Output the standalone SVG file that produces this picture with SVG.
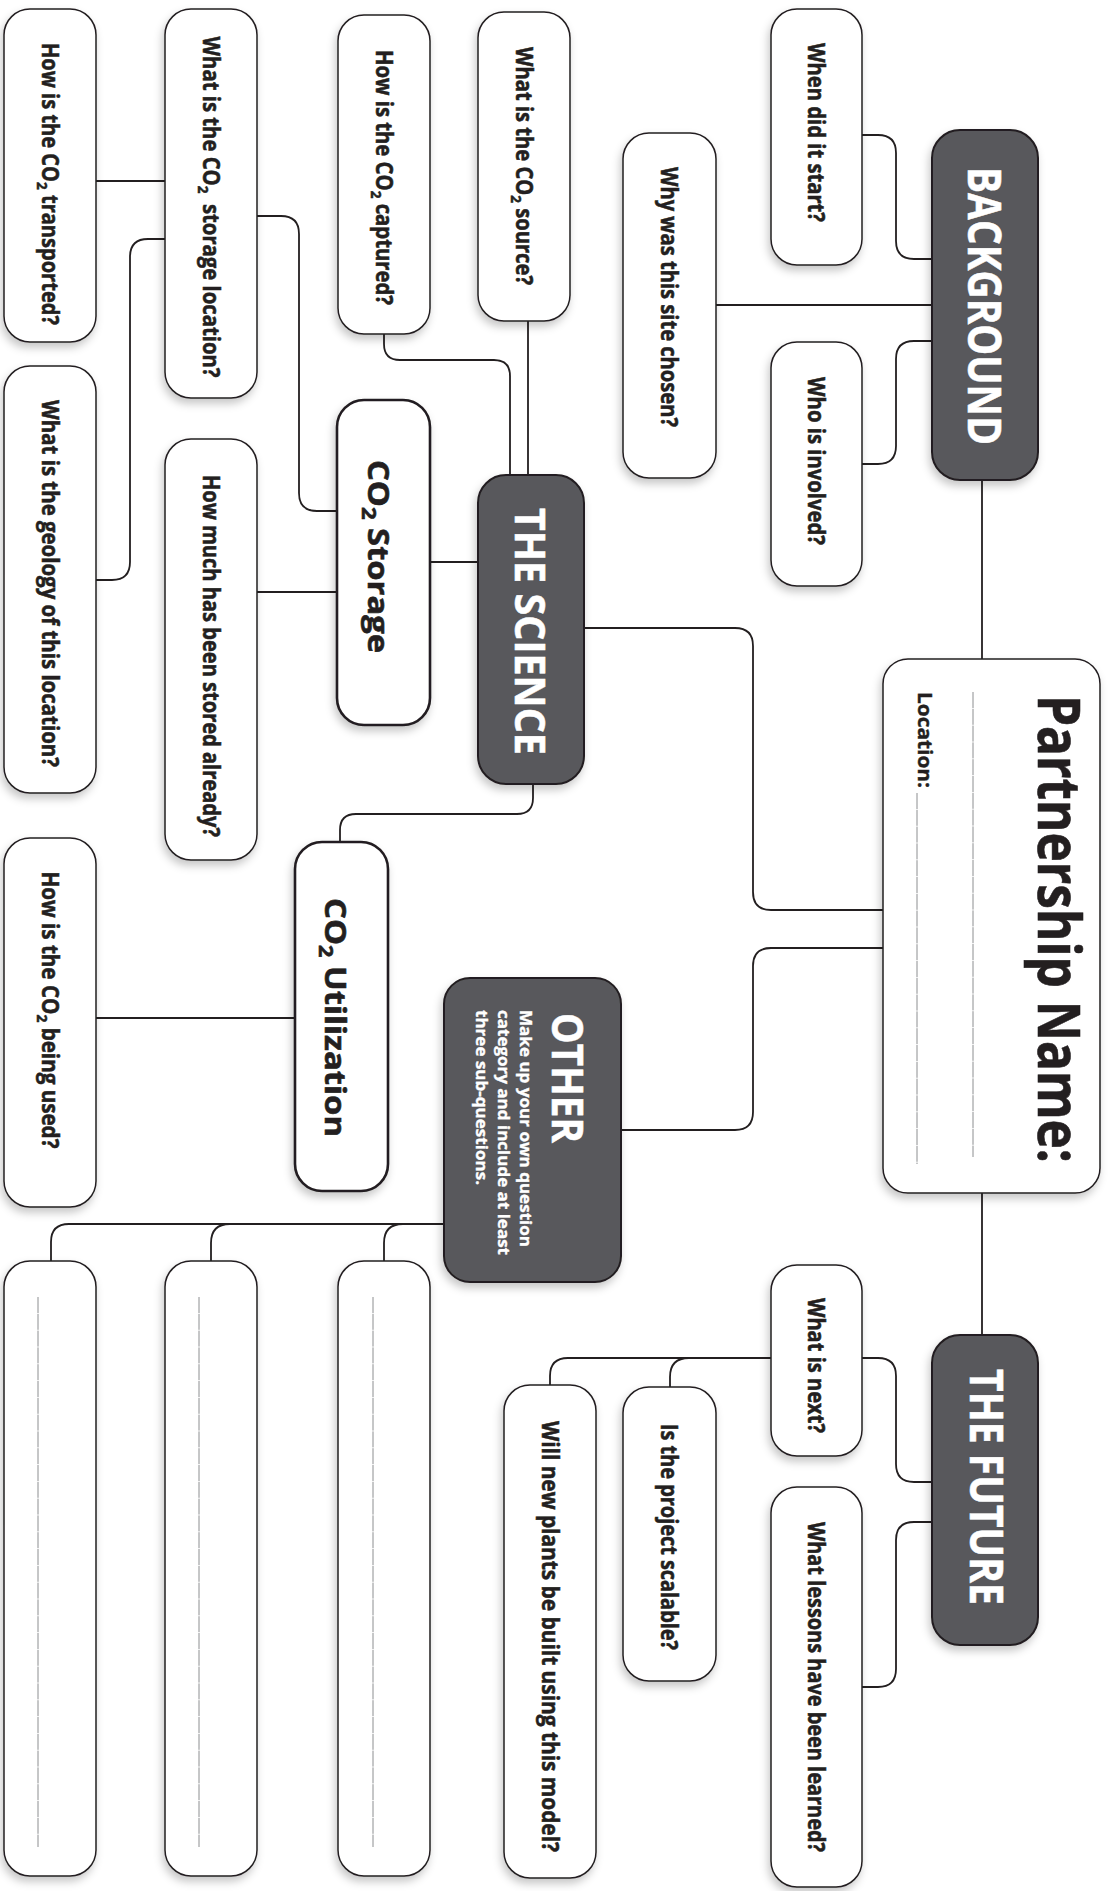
<svg xmlns="http://www.w3.org/2000/svg" width="1111" height="1891" viewBox="0 0 1111 1891">
<style>
.box{fill:#fff;stroke:#231f20;stroke-width:1.5;filter:url(#sh)}
.thick{fill:#fff;stroke:#231f20;stroke-width:2.6;filter:url(#sh)}
.dark{fill:#58595b;stroke:#231f20;stroke-width:2;filter:url(#sh)}
.q{font-family:"Open Sans","Liberation Sans",sans-serif;font-weight:700;font-size:22.5px;fill:#231f20;stroke:#231f20;stroke-width:0.55}
.t{font-family:"Open Sans","Liberation Sans",sans-serif;font-weight:700;fill:#fff;stroke:#fff;stroke-width:0.5}
.mid{font-family:"Open Sans","Liberation Sans",sans-serif;font-weight:700;fill:#231f20;stroke:#231f20;stroke-width:0.6}
.wl{stroke:#808285;stroke-width:0.9;stroke-dasharray:16 0.8;fill:none}
#connectors path{fill:none;stroke:#231f20;stroke-width:1.8}
</style>
<defs>
<filter id="sh" x="-30%" y="-10%" width="160%" height="125%">
<feDropShadow dx="-2" dy="5" stdDeviation="4" flood-color="#000" flood-opacity="0.22"/>
</filter>
</defs>
<rect width="1111" height="1891" fill="#fff"/>
<g id="connectors">
<path d="M96,181 H165"/>
<path d="M257,216 H281 Q299,216 299,234 V493 Q299,511 317,511 H337"/>
<path d="M165,239 H148 Q130,239 130,257 V562 Q130,580 112,580 H96"/>
<path d="M257,592 H337"/>
<path d="M430,562 H478"/>
<path d="M384,334 V344 Q384,360 400,360 H494 Q510,360 510,376 V475"/>
<path d="M528,321 V475"/>
<path d="M533,784 V798 Q533,814 517,814 H356 Q340,814 340,830 V842"/>
<path d="M96,1018 H295"/>
<path d="M584,628 H735 Q753,628 753,646 V892 Q753,910 771,910 H883"/>
<path d="M883,948 H771 Q753,948 753,966 V1112 Q753,1130 735,1130 H621"/>
<path d="M444,1224 H69 Q51,1224 51,1242 V1261"/>
<path d="M230,1224 Q211,1224 211,1243 V1261"/>
<path d="M403,1224 Q384,1224 384,1243 V1261"/>
<path d="M982,480 V659"/>
<path d="M982,1193 V1335"/>
<path d="M862,135 H878 Q896,135 896,153 V241 Q896,259 914,259 H932"/>
<path d="M716,305 H932"/>
<path d="M932,341 H914 Q896,341 896,359 V446 Q896,464 878,464 H862"/>
<path d="M862,1358 H878 Q896,1358 896,1376 V1464 Q896,1482 914,1482 H932"/>
<path d="M932,1522 H914 Q896,1522 896,1540 V1669 Q896,1687 878,1687 H862"/>
<path d="M771,1358 H568 Q550,1358 550,1376 V1385"/>
<path d="M689,1358 Q670,1358 670,1377 V1387"/>
</g>

<g id="q-transported">
<rect class="box" x="4" y="9" width="92" height="333" rx="26"/>
<text class="q" transform="translate(41.5,184) rotate(90)" text-anchor="middle" textLength="282" lengthAdjust="spacingAndGlyphs">How is the CO<tspan dy="5" font-size="15">2</tspan><tspan dy="-5"> transported?</tspan></text>
</g>
<g id="q-geology">
<rect class="box" x="4" y="366" width="92" height="427" rx="26"/>
<text class="q" transform="translate(41.5,583.5) rotate(90)" text-anchor="middle" textLength="367" lengthAdjust="spacingAndGlyphs">What is the geology of this location?</text>
</g>
<g id="q-used">
<rect class="box" x="4" y="838" width="92" height="369" rx="26"/>
<text class="q" transform="translate(41.5,1010) rotate(90)" text-anchor="middle" textLength="277" lengthAdjust="spacingAndGlyphs">How is the CO<tspan dy="5" font-size="15">2</tspan><tspan dy="-5"> being used?</tspan></text>
</g>
<g id="blank-a">
<rect class="box" x="4" y="1261" width="92" height="615" rx="26"/>
<line class="wl" x1="38" y1="1297" x2="38" y2="1847"/>
</g>

<g id="q-storage-location">
<rect class="box" x="165" y="9" width="92" height="389" rx="26"/>
<text class="q" transform="translate(202.5,207) rotate(90)" text-anchor="middle" textLength="341" lengthAdjust="spacingAndGlyphs" xml:space="preserve">What is the CO<tspan dy="5" font-size="15">2</tspan><tspan dy="-5">  storage location?</tspan></text>
</g>
<g id="q-howmuch">
<rect class="box" x="165" y="439" width="92" height="421" rx="26"/>
<text class="q" transform="translate(202.5,656) rotate(90)" text-anchor="middle" textLength="362" lengthAdjust="spacingAndGlyphs">How much has been stored already?</text>
</g>
<g id="blank-b">
<rect class="box" x="165" y="1261" width="92" height="615" rx="26"/>
<line class="wl" x1="199" y1="1297" x2="199" y2="1847"/>
</g>

<g id="q-captured">
<rect class="box" x="338" y="15" width="92" height="319" rx="26"/>
<text class="q" transform="translate(375.5,177.5) rotate(90)" text-anchor="middle" textLength="255" lengthAdjust="spacingAndGlyphs">How is the CO<tspan dy="5" font-size="15">2</tspan><tspan dy="-5"> captured?</tspan></text>
</g>
<g id="co2-storage">
<rect class="thick" x="337" y="400" width="93" height="325" rx="27"/>
<text class="mid" font-size="28" transform="translate(368,556.5) rotate(90)" text-anchor="middle" textLength="193" lengthAdjust="spacingAndGlyphs">CO<tspan dy="6" font-size="19">2</tspan><tspan dy="-6"> Storage</tspan></text>
</g>
<g id="blank-c">
<rect class="box" x="338" y="1261" width="92" height="615" rx="26"/>
<line class="wl" x1="373" y1="1297" x2="373" y2="1847"/>
</g>

<g id="co2-utilization">
<rect class="thick" x="295" y="842" width="93" height="349" rx="27"/>
<text class="mid" font-size="29" transform="translate(325,1017.5) rotate(90)" text-anchor="middle" textLength="239" lengthAdjust="spacingAndGlyphs">CO<tspan dy="6" font-size="19">2</tspan><tspan dy="-6"> Utilization</tspan></text>
</g>

<g id="q-source">
<rect class="box" x="478" y="12" width="92" height="309" rx="26"/>
<text class="q" transform="translate(515.5,166) rotate(90)" text-anchor="middle" textLength="238" lengthAdjust="spacingAndGlyphs">What is the CO<tspan dy="5" font-size="15">2</tspan><tspan dy="-5"> source?</tspan></text>
</g>
<g id="the-science">
<rect class="dark" x="478" y="475" width="106" height="309" rx="28"/>
<text class="t" font-size="42" transform="translate(515,631.5) rotate(90)" text-anchor="middle" textLength="247" lengthAdjust="spacingAndGlyphs">THE SCIENCE</text>
</g>

<g id="other">
<rect class="dark" x="444" y="978" width="177" height="304" rx="26"/>
<text class="t" font-size="43" transform="translate(552,1078) rotate(90)" text-anchor="middle" textLength="130" lengthAdjust="spacingAndGlyphs">OTHER</text>
<text class="t" font-size="16.5" transform="translate(520,1010) rotate(90)" textLength="237" lengthAdjust="spacingAndGlyphs" style="stroke-width:0.35">Make up your own question</text>
<text class="t" font-size="16.5" transform="translate(498,1010) rotate(90)" textLength="245" lengthAdjust="spacingAndGlyphs" style="stroke-width:0.35">category and include at least</text>
<text class="t" font-size="16.5" transform="translate(475.5,1010) rotate(90)" textLength="175" lengthAdjust="spacingAndGlyphs" style="stroke-width:0.35">three sub-questions.</text>
</g>

<g id="q-new-plants">
<rect class="box" x="504" y="1385" width="92" height="493" rx="26"/>
<text class="q" transform="translate(541.5,1636.5) rotate(90)" text-anchor="middle" textLength="431" lengthAdjust="spacingAndGlyphs">Will new plants be built using this model?</text>
</g>
<g id="q-why">
<rect class="box" x="623" y="133" width="93" height="345" rx="26"/>
<text class="q" transform="translate(660.5,297) rotate(90)" text-anchor="middle" textLength="260" lengthAdjust="spacingAndGlyphs">Why was this site chosen?</text>
</g>
<g id="q-scalable">
<rect class="box" x="623" y="1387" width="93" height="294" rx="26"/>
<text class="q" transform="translate(660.5,1537) rotate(90)" text-anchor="middle" textLength="226" lengthAdjust="spacingAndGlyphs">Is the project scalable?</text>
</g>
<g id="q-when">
<rect class="box" x="771" y="9" width="91" height="256" rx="26"/>
<text class="q" transform="translate(808,132.5) rotate(90)" text-anchor="middle" textLength="179" lengthAdjust="spacingAndGlyphs">When did it start?</text>
</g>
<g id="q-who">
<rect class="box" x="771" y="342" width="91" height="244" rx="26"/>
<text class="q" transform="translate(808,461) rotate(90)" text-anchor="middle" textLength="168" lengthAdjust="spacingAndGlyphs">Who is involved?</text>
</g>
<g id="q-next">
<rect class="box" x="771" y="1265" width="91" height="191" rx="26"/>
<text class="q" transform="translate(808,1365.5) rotate(90)" text-anchor="middle" textLength="135" lengthAdjust="spacingAndGlyphs">What is next?</text>
</g>
<g id="q-lessons">
<rect class="box" x="771" y="1487" width="91" height="400" rx="26"/>
<text class="q" transform="translate(808,1687) rotate(90)" text-anchor="middle" textLength="330" lengthAdjust="spacingAndGlyphs">What lessons have been learned?</text>
</g>

<g id="background">
<rect class="dark" x="932" y="130" width="106" height="350" rx="28"/>
<text class="t" font-size="47" transform="translate(968,306) rotate(90)" text-anchor="middle" textLength="278" lengthAdjust="spacingAndGlyphs">BACKGROUND</text>
</g>
<g id="the-future">
<rect class="dark" x="932" y="1335" width="106" height="310" rx="28"/>
<text class="t" font-size="46" transform="translate(970,1487) rotate(90)" text-anchor="middle" textLength="236" lengthAdjust="spacingAndGlyphs">THE FUTURE</text>
</g>

<g id="partnership">
<rect class="box" x="883" y="659" width="217" height="534" rx="25"/>
<text class="mid" font-size="59" transform="translate(1038,695) rotate(90)" textLength="468" lengthAdjust="spacingAndGlyphs">Partnership Name:</text>
<line class="wl" x1="973" y1="692" x2="973" y2="1157"/>
<text class="mid" font-size="19" transform="translate(918,692) rotate(90)" textLength="96" lengthAdjust="spacingAndGlyphs" style="stroke-width:0.4">Location:</text>
<line class="wl" x1="917" y1="793" x2="917" y2="1164"/>
</g>
</svg>
